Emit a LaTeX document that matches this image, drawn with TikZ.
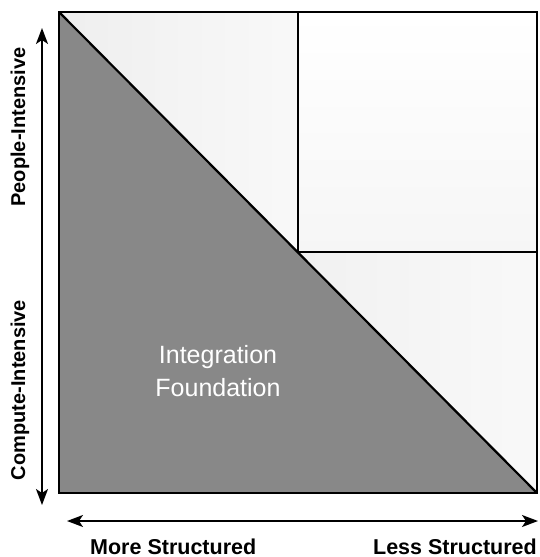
\documentclass[tikz,border=0pt]{standalone}
\usepackage{fontspec}
\setmainfont{Liberation Sans}
\usetikzlibrary{arrows.meta}

\definecolor{foundgray}{HTML}{888888}

\tikzset{
  axislabel/.style={inner sep=0pt, font=\fontsize{20}{24}\selectfont\bfseries},
  scalelabel/.style={inner sep=0pt, font=\fontsize{21.5}{24}\selectfont\bfseries},
  axisarrow/.style={line width=1.6pt,
    {Stealth[length=16pt,width=12pt,inset=4pt]}-{Stealth[length=16pt,width=12pt,inset=4pt]}},
  edge/.style={line width=1.8pt, line join=miter},
}

\begin{document}
\begin{tikzpicture}[x=1pt,y=-1pt]
\useasboundingbox (0,0) rectangle (540,557);
% corners of the square
\coordinate (tl) at (59,12);
\coordinate (tr) at (537,12);
\coordinate (br) at (537,493);
\coordinate (bl) at (59,493);
\coordinate (tm) at (298,12);
\coordinate (mid) at (298,252);
\coordinate (rm) at (537,252);

% light regions
\shade[left color=gray!13, right color=gray!5] (tl) -- (tm) -- (mid) -- cycle;
\shade[shading angle=45, top color=white, bottom color=gray!7] (tm) -- (tr) -- (rm) -- (mid) -- cycle;
\shade[left color=gray!11, right color=gray!5] (mid) -- (rm) -- (br) -- cycle;

% integration foundation
\fill[foundgray] (tl) -- (br) -- (bl) -- cycle;
\node[text=white, align=center, font=\fontsize{25}{33}\selectfont] (found) at (218,371) {Integration\\Foundation};

\draw[edge] (tl) rectangle (br);
\draw[edge, line width=2.2pt] (tl) -- (br);
\draw[edge] (tm) -- (mid) -- (rm);

% axes
\coordinate (up) at (42,28);
\coordinate (down) at (42,505);
\coordinate (lft) at (67,521);
\coordinate (rgt) at (538,521);
\draw[axisarrow] (up) -- (down);
\draw[axisarrow] (lft) -- (rgt);

\node[axislabel, rotate=90] (people) at (20,127) {People-Intensive};
\node[axislabel, rotate=90] (compute) at (20,390) {Compute-Intensive};
\node[scalelabel, anchor=base west] (more) at (90,554) {More Structured};
\node[scalelabel, anchor=base east] (less) at (537,554) {Less Structured};
\end{tikzpicture}
\end{document}
